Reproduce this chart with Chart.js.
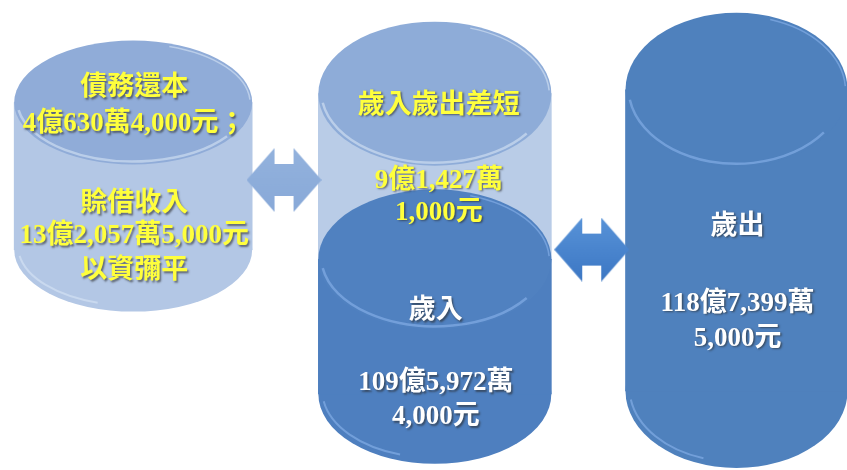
<!DOCTYPE html>
<html>
<head>
<meta charset="utf-8">
<script src="https://cdn.jsdelivr.net/npm/chart.js@4.4.1/dist/chart.umd.min.js"></script>
<style>
  html, body { margin: 0; padding: 0; background: #ffffff; }
  #chart { display: block; }
</style>
</head>
<body>
<canvas id="chart" width="847" height="470"></canvas>
<script>
// Cylinder diagram: 歲入、歲出、差短與賒借收入
const cylinderNames = ['賒借收入', '歲入歲出差短', '歲入', '歲出'];
const cylinderLines = [
    ['債務還本', '4億630萬4,000元；', '賒借收入', '13億2,057萬5,000元', '以資彌平'],
    ['歲入歲出差短', '9億1,427萬', '1,000元'],
    ['歲入', '109億5,972萬', '4,000元'],
    ['歲出', '118億7,399萬', '5,000元']
];
// schematic levels (the picture is not drawn to scale)
const cylinderSlot = [0, 1, 1, 2];
const levelBottom = [44, 42, 14.4, 15];
const levelTop = [74.2, 76, 42, 76.8];
// double arrows between the cylinders
const arrowSlot = [0.5, 1.52];
const arrowLevel = [58.3, 44];

const FONT = 'bold 27px "Liberation Serif", "Noto Sans CJK TC", serif';

function makeArrow(top, bottom) {
    const c = document.createElement('canvas');
    c.width = 75;
    c.height = 64;
    const g = c.getContext('2d');
    const grad = g.createLinearGradient(0, 0, 0, 64);
    grad.addColorStop(0, top);
    grad.addColorStop(1, bottom);
    g.fillStyle = grad;
    g.beginPath();
    g.moveTo(0, 32);
    g.lineTo(28, 0);
    g.lineTo(28, 16);
    g.lineTo(47, 16);
    g.lineTo(47, 0);
    g.lineTo(75, 32);
    g.lineTo(47, 64);
    g.lineTo(47, 48);
    g.lineTo(28, 48);
    g.lineTo(28, 64);
    g.closePath();
    g.fill();
    return c;
}
const arrowImages = [makeArrow('#93b2dd', '#88a9d8'), makeArrow('#5893d8', '#3c77c4')];

// per cylinder looks
const bodyColors = ['#b3c7e5', '#b9cce7', '#4e7fbf', '#4f81bd'];
const capColors = ['#90acd8', '#8eacd8', '#5081c0', '#4f81bd'];
const rimColors = ['rgba(215,228,245,0.6)', 'rgba(215,228,245,0.6)', 'rgba(130,172,230,0.7)', 'rgba(130,172,230,0.7)'];
const capRy = [62, 72, 70, 77];
const thickness = [238, 233, 233, 222];
const textColors = ['#ffff3c', '#ffff3c', '#ffffff', '#ffffff'];
const lineOffsets = [
    [-14, 22, 102, 134, 169],
    [12, 87, 119],
    [52, 124, 158],
    [137, 214, 249]
];
const drawOrder = [2, 3, 1, 2];

const datasets = cylinderNames.map((name, i) => ({
    type: 'bar',
    label: name,
    data: [{ x: cylinderSlot[i], y: [levelBottom[i], levelTop[i]] }],
    backgroundColor: bodyColors[i],
    borderWidth: 0,
    barThickness: thickness[i],
    grouped: false,
    clip: false,
    order: drawOrder[i],
    cyl: i
}));

datasets.push({
    type: 'scatter',
    label: 'arrows',
    data: arrowSlot.map((x, i) => ({ x: x, y: arrowLevel[i] })),
    pointStyle: ctx => arrowImages[ctx.dataIndex],
    pointRadius: 5,
    order: 0
});

function barProps(chart, index) {
    const meta = chart.getDatasetMeta(index);
    return meta.data.map(el => el.getProps(['x', 'y', 'base', 'width'], true));
}

const cylinderPlugin = {
    id: 'cylinders',
    beforeDatasetDraw(chart, args) {
        const ds = chart.data.datasets[args.index];
        if (ds.cyl === undefined) return;
        const ctx = chart.ctx;
        const i = ds.cyl;
        barProps(chart, args.index).forEach(p => {
            const rx = p.width / 2;
            ctx.save();
            ctx.fillStyle = bodyColors[i];
            ctx.beginPath();
            ctx.ellipse(p.x, p.base, rx, capRy[i], 0, 0, Math.PI * 2);
            ctx.fill();
            // light rim along the bottom edge
            ctx.strokeStyle = rimColors[i];
            ctx.lineWidth = 2;
            ctx.beginPath();
            ctx.ellipse(p.x, p.base - 3, rx - 4, capRy[i] - 3, 0, Math.PI * 0.6, Math.PI * 0.95);
            ctx.stroke();
            ctx.restore();
        });
    },
    afterDatasetDraw(chart, args) {
        const ds = chart.data.datasets[args.index];
        if (ds.cyl === undefined) return;
        const ctx = chart.ctx;
        const i = ds.cyl;
        barProps(chart, args.index).forEach(p => {
            const rx = p.width / 2;
            ctx.save();
            ctx.fillStyle = capColors[i];
            ctx.beginPath();
            ctx.ellipse(p.x, p.y, rx, capRy[i], 0, 0, Math.PI * 2);
            ctx.fill();
            // highlight on the lower edge of the top face
            ctx.strokeStyle = rimColors[i];
            ctx.lineWidth = 2.5;
            ctx.beginPath();
            ctx.ellipse(p.x, p.y - 2, rx - 3, capRy[i] - 1, 0, Math.PI * 0.2, Math.PI * 0.95);
            ctx.stroke();
            // thin rim on the upper right edge
            ctx.lineWidth = 1.5;
            ctx.beginPath();
            ctx.ellipse(p.x, p.y + 1, rx - 2, capRy[i] - 2, 0, Math.PI * 1.6, Math.PI * 1.98);
            ctx.stroke();
            ctx.restore();
        });
    },
    afterDatasetsDraw(chart) {
        const ctx = chart.ctx;
        chart.data.datasets.forEach((ds, index) => {
            if (ds.cyl === undefined) return;
            const i = ds.cyl;
            barProps(chart, index).forEach(p => {
                ctx.save();
                ctx.font = FONT;
                ctx.textAlign = 'center';
                ctx.textBaseline = 'middle';
                ctx.fillStyle = textColors[i];
                ctx.shadowColor = 'rgba(40,40,40,0.6)';
                ctx.shadowBlur = 2;
                ctx.shadowOffsetX = 1.5;
                ctx.shadowOffsetY = 1.5;
                cylinderLines[i].forEach((line, k) => {
                    ctx.fillText(line, p.x + (i === 1 ? 4 : 1), p.y + lineOffsets[i][k]);
                });
                ctx.restore();
            });
        });
    }
};

new Chart(document.getElementById('chart'), {
    type: 'bar',
    data: { datasets: datasets },
    options: {
        responsive: false,
        animation: false,
        events: [],
        layout: { padding: 0 },
        plugins: {
            legend: { display: false },
            tooltip: { enabled: false }
        },
        scales: {
            x: {
                type: 'linear',
                min: -0.4216,
                max: 2.3464,
                offset: false,
                display: false
            },
            y: {
                type: 'linear',
                min: 0,
                max: 94,
                display: false
            }
        }
    },
    plugins: [cylinderPlugin]
});
</script>
</body>
</html>
